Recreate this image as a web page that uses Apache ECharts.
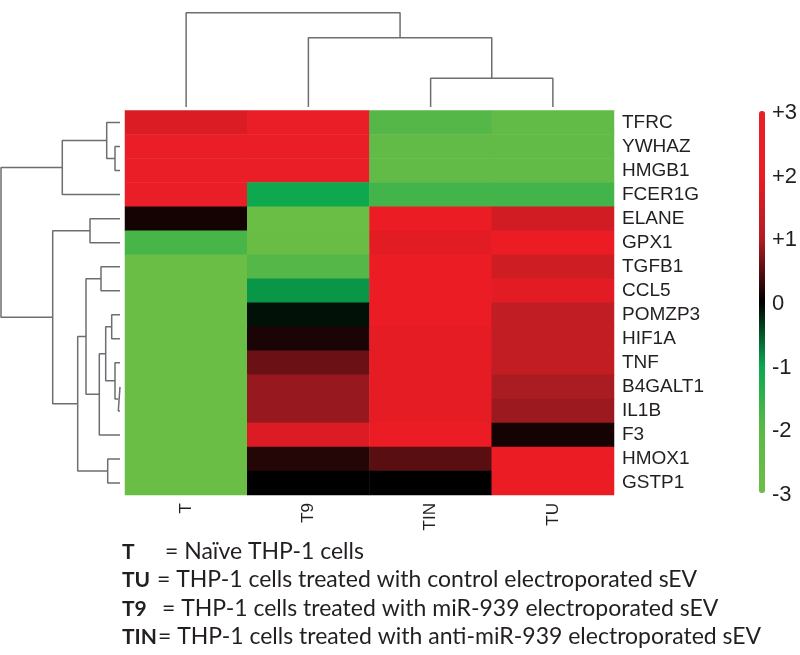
<!DOCTYPE html>
<html>
<head>
<meta charset="utf-8">
<script src="https://cdn.jsdelivr.net/npm/echarts@6/dist/echarts.min.js"></script>
<style>
  html, body { margin: 0; padding: 0; background: #fff; }
  #chart { width: 800px; height: 655px; }
</style>
</head>
<body>
<div id="chart"></div>
<script>
const samples = ['T', 'T9', 'TIN', 'TU']
const genes = ['TFRC', 'YWHAZ', 'HMGB1', 'FCER1G', 'ELANE', 'GPX1', 'TGFB1', 'CCL5',
  'POMZP3', 'HIF1A', 'TNF', 'B4GALT1', 'IL1B', 'F3', 'HMOX1', 'GSTP1']

// z-scores per gene, columns in the order of samples
const zScores = [
  [1.7, 2.4, -1.9, -2.4],
  [2.4, 2.4, -2.4, -2.4],
  [2.4, 2.4, -2.4, -2.4],
  [2.4, -1.05, -1.7, -1.7],
  [0.12, -2.9, 2.0, 1.55],
  [-1.75, -2.8, 1.85, 2.1],
  [-2.9, -1.9, 2.1, 1.5],
  [-2.9, -0.9, 2.1, 1.85],
  [-2.9, -0.1, 2.1, 1.25],
  [-2.9, 0.15, 1.9, 1.3],
  [-2.9, 0.6, 1.9, 1.3],
  [-2.9, 0.85, 1.9, 0.95],
  [-2.9, 0.85, 1.9, 0.87],
  [-2.9, 1.7, 2.1, 0.12],
  [-2.9, 0.2, 0.5, 2.1],
  [-2.9, 0, 0, 2.1]
]

// linkage rows: [childA, childB, height]; ids >= leaf count refer to earlier merges
const geneLinkage = [
  [11, 12, 1.7], [1, 2, 5], [10, 16, 5], [8, 9, 8.3], [14, 15, 12.3],
  [0, 17, 13.3], [19, 18, 14.3], [6, 7, 19], [22, 13, 20.7], [4, 5, 30],
  [23, 24, 34], [26, 20, 42.3], [21, 3, 57.7], [25, 27, 67.3], [28, 29, 119]
]
const sampleLinkage = [[2, 3, 28.7], [1, 4, 69.3], [0, 5, 94.3]]

const scaleColors = ['#6cbe45', '#5cb947', '#0aa84f', '#000000', '#b21d24', '#ec1c24', '#e8202a']

const legendKeys = ['T', 'TU', 'T9', 'TIN']
const legendTexts = [
  '= Naïve THP-1 cells',
  '= THP-1 cells treated with control electroporated sEV',
  '= THP-1 cells treated with miR-939 electroporated sEV',
  '= THP-1 cells treated with anti-miR-939 electroporated sEV'
]

function dendroSegments(linkage, n) {
  const pos = [], height = []
  for (let i = 0; i < n; i++) { pos[i] = i + 0.5; height[i] = 0 }
  const segs = []
  linkage.forEach(([a, b, h], k) => {
    segs.push([[pos[a], height[a]], [pos[a], h], [pos[b], h], [pos[b], height[b]]])
    pos[n + k] = (pos[a] + pos[b]) / 2
    height[n + k] = h
  })
  return segs
}

const heatData = []
zScores.forEach((row, r) => row.forEach((v, c) => heatData.push([c, r, v])))

const lineStyle = { color: '#6d6e71', width: 1.5 }
const topSegs = dendroSegments(sampleLinkage, samples.length).map((s) => ({
  type: 'line', xAxisIndex: 1, yAxisIndex: 1, data: s,
  showSymbol: false, silent: true, lineStyle
}))
const leftSegs = dendroSegments(geneLinkage, genes.length).map((s) => ({
  type: 'line', xAxisIndex: 2, yAxisIndex: 2, data: s.map(([p, h]) => [h, p]),
  showSymbol: false, silent: true, lineStyle
}))

const chart = echarts.init(document.getElementById('chart'), null, { renderer: 'canvas' })

const FONT = 'Liberation Sans'
const hidden = { show: false }
const graphics = []
const eqX = [165, 157, 162, 158]
const rowY = [552, 580, 609, 637]
legendKeys.forEach((k, i) => {
  graphics.push({
    type: 'text', x: 122, y: rowY[i],
    style: { text: k, font: 'bold 21px Lato', fill: '#231f20', verticalAlign: 'middle' }
  })
  graphics.push({
    type: 'text', x: eqX[i], y: rowY[i],
    style: { text: legendTexts[i], font: '23px Lato', fill: '#231f20', verticalAlign: 'middle' }
  })
})

chart.setOption({
  animation: false,
  grid: [
    { left: 125, top: 110.5, width: 489, height: 384.5 },
    { left: 125, top: 7, width: 489, height: 100 },
    { left: 0, top: 110.5, width: 120, height: 384.5 },
    { left: 759, top: 113, width: 6, height: 382 }
  ],
  xAxis: [
    {
      type: 'category', gridIndex: 0, data: samples, position: 'bottom',
      axisLine: hidden, axisTick: hidden,
      axisLabel: { rotate: 90, fontSize: 17, fontFamily: FONT, color: '#231f20', margin: 8, interval: 0 }
    },
    { type: 'value', gridIndex: 1, min: 0, max: samples.length, show: false },
    { type: 'value', gridIndex: 2, min: 0, max: 120, inverse: true, show: false },
    { type: 'value', gridIndex: 3, min: 0, max: 1, show: false }
  ],
  yAxis: [
    {
      type: 'category', gridIndex: 0, data: genes, inverse: true, position: 'right',
      axisLine: hidden, axisTick: hidden,
      axisLabel: {
        fontSize: 19, fontFamily: FONT, color: '#231f20', margin: 8, interval: 0,
        padding: [9, 0, 0, 0]
      }
    },
    { type: 'value', gridIndex: 1, min: 0, max: 100, show: false },
    { type: 'value', gridIndex: 2, min: 0, max: genes.length, inverse: true, show: false },
    {
      type: 'value', gridIndex: 3, min: -3, max: 3, interval: 1, position: 'right',
      axisLine: hidden, axisTick: hidden, splitLine: hidden,
      axisLabel: {
        fontSize: 22, fontFamily: FONT, color: '#231f20', margin: 8,
        formatter: (v) => (v > 0 ? '+' + v : String(v))
      }
    }
  ],
  visualMap: {
    type: 'continuous', seriesIndex: 0, min: -3, max: 3,
    inRange: { color: scaleColors },
    calculable: false, text: null, showLabel: false,
    itemWidth: 6, itemHeight: 382, left: 759, top: 111, padding: 0
  },
  series: [
    {
      type: 'heatmap', xAxisIndex: 0, yAxisIndex: 0, data: heatData,
      itemStyle: { borderWidth: 0 }, emphasis: { disabled: true }
    },
    ...topSegs,
    ...leftSegs
  ],
  graphic: graphics
})
</script>
</body>
</html>
